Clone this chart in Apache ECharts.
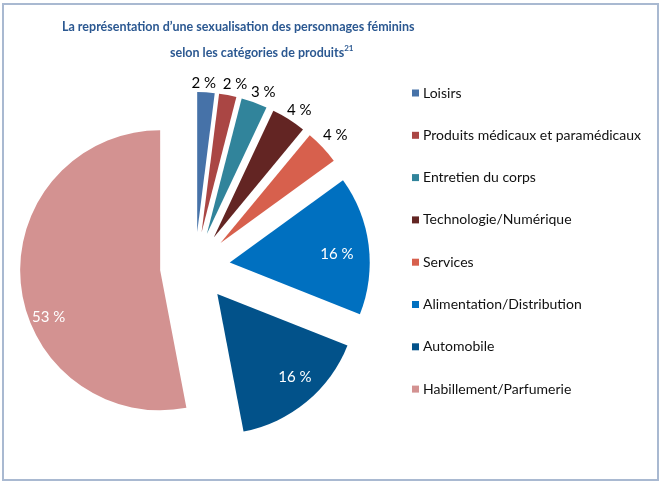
<!DOCTYPE html>
<html>
<head>
<meta charset="utf-8">
<script src="https://cdn.jsdelivr.net/npm/echarts@6/dist/echarts.min.js"></script>
<style>
html,body{margin:0;padding:0;background:#fff;}
#chart{width:661px;height:483px;}
</style>
</head>
<body>
<div id="chart"></div>
<script>
const categories = [
  'Loisirs',
  'Produits médicaux et paramédicaux',
  'Entretien du corps',
  'Technologie/Numérique',
  'Services',
  'Alimentation/Distribution',
  'Automobile',
  'Habillement/Parfumerie'
];
const values = [2, 2, 3, 4, 4, 16, 16, 53];
const colors = ['#4672A8', '#AA4644', '#31849B', '#632523', '#D7604D', '#0070C0', '#02528A', '#D39291'];
const titleLine1 = 'La représentation d\u2019une sexualisation des personnages féminins';
const titleLine2 = 'selon les catégories de produits';
const titleNote = '21';

const bigThreshold = 10;
const FONT = 'Lato';
// label nudges (style only), keyed by category index
const labelNudge = [[-3, 3], [5, 1], [5, 1], [4, 1], [4, -4], [-6, 6], [5, -5], [2, 36]];

const mainData = categories.map((c, i) => ({
  name: c, value: values[i], selected: true,
  itemStyle: { color: colors[i] }
}));
function labelData(showBig) {
  return categories.map((c, i) => {
    const isBig = values[i] >= bigThreshold;
    return {
      name: '_' + c, value: values[i], selected: true,
      label: { show: isBig === showBig }
    };
  });
}
function nudgeLayout(params) {
  const n = labelNudge[params.dataIndex] || [0, 0];
  return { hideOverlap: false, dx: n[0], dy: n[1] };
}
const labelCommon = {
  type: 'pie',
  center: [195, 267],
  startAngle: 90,
  clockwise: true,
  selectedMode: 'multiple',
  selectedOffset: 35,
  silent: true,
  avoidLabelOverlap: false,
  labelLayout: nudgeLayout,
  itemStyle: { color: 'rgba(0,0,0,0)' },
  labelLine: { show: false },
  emphasis: { disabled: true },
  animation: false
};

const chart = echarts.init(document.getElementById('chart'), null, { renderer: 'canvas' });
chart.setOption({
  animation: false,
  backgroundColor: '#ffffff',
  title: [
    { text: titleLine1, left: 62, top: 20, padding: 0,
      textStyle: { fontFamily: FONT, fontWeight: 'bold', fontSize: 12.5, color: '#2B5891' } },
    { text: titleLine2 + '{sup|' + titleNote + '}', left: 170, top: 44, padding: 0,
      textStyle: { fontFamily: FONT, fontWeight: 'bold', fontSize: 12.5, color: '#2B5891',
        rich: { sup: { fontFamily: FONT, fontWeight: 'bold', fontSize: 8, color: '#2B5891', verticalAlign: 'top', padding: [0, 0, 9, 0] } } } }
  ],
  legend: {
    orient: 'vertical',
    left: 412,
    top: 85,
    padding: 0,
    icon: 'rect',
    itemWidth: 7,
    itemHeight: 7,
    itemGap: 26.3,
    selectedMode: false,
    data: categories,
    textStyle: { fontFamily: FONT, fontSize: 14, color: '#111', lineHeight: 16, padding: [0, 0, 0, -1] }
  },
  graphic: [{
    type: 'rect', shape: { x: 3, y: 4, width: 655, height: 476 },
    style: { fill: 'none', stroke: '#A9B9D1', lineWidth: 2 }, silent: true
  }],
  series: [
    {
      type: 'pie',
      name: 'main',
      center: [195, 267],
      radius: [0, 140],
      startAngle: 90,
      clockwise: true,
      selectedMode: 'multiple',
      selectedOffset: 35,
      avoidLabelOverlap: false,
      label: { show: false },
      labelLine: { show: false },
      emphasis: { disabled: true },
      data: mainData
    },
    Object.assign({}, labelCommon, {
      name: 'labelsSmall',
      radius: [0, 298],
      label: { show: true, position: 'inside', formatter: '{c} %', fontFamily: FONT, fontSize: 15, color: '#000' },
      data: labelData(false)
    }),
    Object.assign({}, labelCommon, {
      name: 'labelsBig',
      radius: [0, 222],
      label: { show: true, position: 'inside', formatter: '{c} %', fontFamily: FONT, fontSize: 15, color: '#fff' },
      data: labelData(true)
    })
  ]
});
</script>
</body>
</html>
